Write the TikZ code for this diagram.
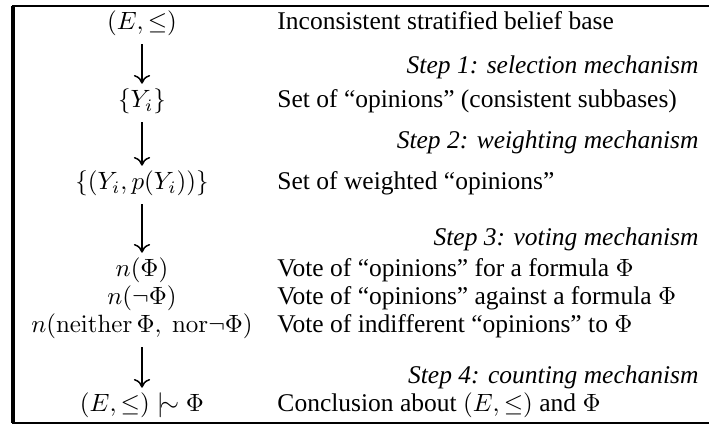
\documentclass[tikz,border=0pt]{standalone}
\usepackage{amsmath,amssymb}
\usepackage[no-math]{fontspec}
\setmainfont{Liberation Serif}
\usetikzlibrary{arrows.meta,positioning}

\tikzset{
  lbl/.style={inner sep=0pt, anchor=base},
  desc/.style={inner sep=0pt, anchor=base west, font=\fontsize{10.2pt}{12pt}\selectfont},
  stepnote/.style={inner sep=0pt, anchor=base east, font=\fontsize{10.2pt}{12pt}\selectfont\itshape},
  flow/.style={-{Computer Modern Rightarrow[length=3.5pt,width=6.5pt]}, line width=0.6pt,
    shorten <=3pt, shorten >=2pt},
  frame/.style={line width=0.8pt}
}

\begin{document}
\begin{tikzpicture}[x=0.4pt,y=-0.4pt]
  \useasboundingbox (0,0) rectangle (709,426);
  % frame
  \draw[frame] (709,6) -- (13,6) -- (13,423) -- (709,423);
  \draw[line width=1.6pt] (13,6) -- (13,423);

  % left column
  \node[lbl] (base) at (142,30) {$(E,\leq)$};
  \node[lbl] (opin) at (142,108) {$\{Y_i\}$};
  \node[lbl] (wopin) at (142,190) {$\{(Y_i,p(Y_i))\}$};
  \node[lbl] (nphi) at (142,277) {$n(\Phi)$};
  \node[lbl] (nnphi) at (142,305) {$n(\neg\Phi)$};
  \node[lbl] (nneither) at (142,333) {$n(\mathrm{neither}\,\Phi,\ \mathrm{nor}{\neg}\Phi)$};
  \node[lbl] (concl) at (142,412) {$(E,\leq)\mathrel{|}\joinrel\mathrel{\sim}\Phi$};

  % right column
  \node[desc] (dbase) at (277,30) {Inconsistent stratified belief base};
  \node[desc] (dopin) at (277,108) {Set of ``opinions'' (consistent subbases)};
  \node[desc] (dwopin) at (277,190) {Set of weighted ``opinions''};
  \node[desc] (dnphi) at (277,277) {Vote of ``opinions'' for a formula $\Phi$};
  \node[desc] (dnnphi) at (277,305) {Vote of ``opinions'' against a formula $\Phi$};
  \node[desc] (dneither) at (277,333) {Vote of indifferent ``opinions'' to $\Phi$};
  \node[desc] (dconcl) at (277,412) {Conclusion about $(E,\leq)$ and $\Phi$};

  % steps
  \node[stepnote] (s1) at (699,74) {Step 1: selection mechanism};
  \node[stepnote] (s2) at (699,149) {Step 2: weighting mechanism};
  \node[stepnote] (s3) at (699,246) {Step 3: voting mechanism};
  \node[stepnote] (s4) at (699,384) {Step 4: counting mechanism};

  % arrows
  \draw[flow] (base.south) -- (opin.north);
  \draw[flow] (opin.south) -- (wopin.north);
  \draw[flow] (wopin.south) -- (nphi.north);
  \draw[flow] (nneither.south) -- (concl.north);
\end{tikzpicture}
\end{document}
